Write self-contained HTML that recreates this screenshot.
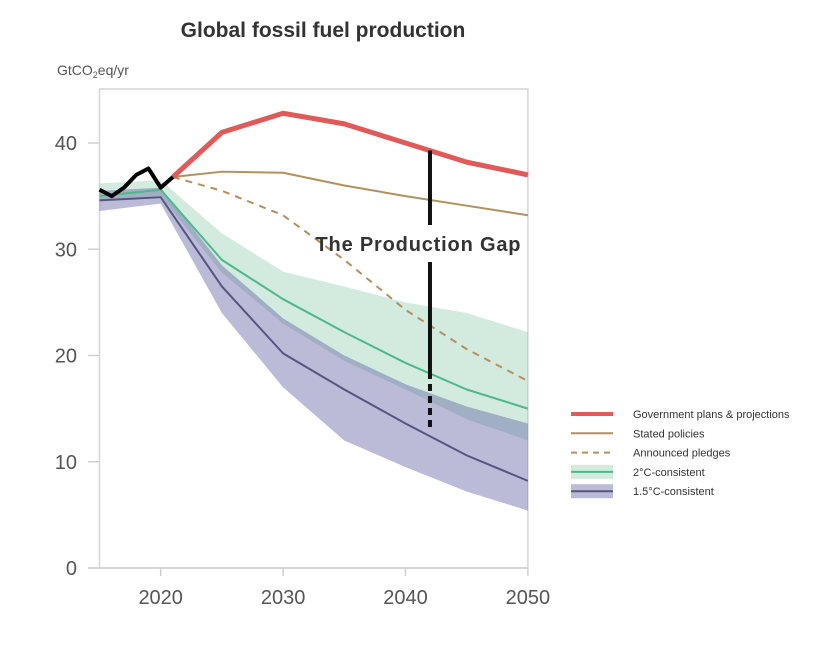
<!DOCTYPE html>
<html><head><meta charset="utf-8"><style>
body{margin:0;background:#fff;width:819px;height:640px;overflow:hidden}
svg{font-family:"Liberation Sans",sans-serif}
</style></head><body>
<svg id="chart" width="819" height="640">
<text x="323" y="37" text-anchor="middle" font-size="21" font-weight="bold" fill="#333">Global fossil fuel production</text>
<text x="57" y="75" font-size="14" fill="#555">GtCO<tspan font-size="9" dy="3">2</tspan><tspan dy="-3">eq/yr</tspan></text>
<g id="plot"></g>
<g id="legend"></g>
</svg>
<script>
const years=[2015,2020,2025,2030,2035,2040,2045,2050];
const histYears=[2015,2016,2017,2018,2019,2020,2021];
const histVals=[35.6,35.0,35.8,37.0,37.6,35.8,36.8];
const projYears=[2021,2025,2030,2035,2040,2045,2050];
const govVals=[36.8,41.0,42.8,41.8,40.0,38.2,37.0];
const statedVals=[36.8,37.3,37.2,36.0,35.0,34.1,33.2];
const pledgeVals=[36.8,35.5,33.2,29.0,24.3,20.6,17.6];
const twoMed=[35.0,35.6,29.0,25.3,22.2,19.3,16.8,15.0];
const twoHi=[36.2,36.5,31.5,27.9,26.5,25.0,24.0,22.2];
const twoLo=[34.6,35.0,27.8,23.0,19.5,16.8,14.0,12.0];
const oneMed=[34.6,34.9,26.5,20.2,16.8,13.6,10.6,8.2];
const oneHi=[35.5,35.8,28.5,23.5,20.0,17.3,15.2,13.6];
const oneLo=[33.6,34.3,24.0,17.0,12.0,9.5,7.2,5.4];
const gapYear=2042, gapTop=39.3, gapBottom=12.8;
const xTicks=[2020,2030,2040,2050];
const yTicks=[0,10,20,30,40];

const X=y=>99.5+(y-2015)*12.24;
const Y=v=>568-v*10.625;
const NS="http://www.w3.org/2000/svg";
const plot=document.getElementById('plot');
function mk(tag,attrs,parent){const e=document.createElementNS(NS,tag);for(const k in attrs)e.setAttribute(k,attrs[k]);(parent||plot).appendChild(e);return e;}
let f=mk('rect',{x:X(2015),y:89,width:X(2050)-X(2015),height:568-89,fill:'none',stroke:'#d6d6d6','stroke-width':1.5});


let xa=mk('line',{x1:88,x2:X(2050),y1:568,y2:568,stroke:'#d0d0d0','stroke-width':1.5});


xTicks.forEach(t=>{
 let l=mk('line',{x1:X(t),x2:X(t),y1:568,y2:576,stroke:'#d0d0d0','stroke-width':1.5});
 
 
 let tx=mk('text',{x:X(t),y:604,'text-anchor':'middle','font-size':20,fill:'#555'});tx.textContent=t;
 
 
});
yTicks.forEach(t=>{
 let l=mk('line',{x1:88,x2:X(2015),y1:Y(t),y2:Y(t),stroke:'#d0d0d0','stroke-width':1.5});
 
 
 let tx=mk('text',{x:77,y:Y(t)+7,'text-anchor':'end','font-size':20,fill:'#555'});tx.textContent=t;
 
 
});
function band(hi,lo,fill,name){
 let d=years.map((y,i)=>(i?'L':'M')+X(y)+','+Y(hi[i])).join('')+years.slice().reverse().map((y,i)=>'L'+X(y)+','+Y(lo[lo.length-1-i])).join('')+'Z';
 let p=mk('path',{d:d,fill:fill});
 
 
}
function line(xs,vs,stroke,w,name,dash){
 let p=mk('path',{d:xs.map((y,i)=>(i?'L':'M')+X(y)+','+Y(vs[i])).join(''),fill:'none',stroke:stroke,'stroke-width':w,'stroke-linejoin':'round'});
 if(dash)p.setAttribute('stroke-dasharray',dash);
 
 
}
band(twoHi,twoLo,'rgba(110,190,150,0.3)','band-2c');
band(oneHi,oneLo,'rgba(85,85,155,0.4)','band-1-5c');
line(years,twoMed,'#4db88a',2,'line-2c');
line(years,oneMed,'#555580',2,'line-1-5c');
line(projYears,statedVals,'#b0915f',2,'line-stated-policies');
line(projYears,pledgeVals,'#b0915f',2,'line-announced-pledges','7,6');
line(projYears,govVals,'#e05a5a',5,'line-government-plans');
line(histYears,histVals,'#000',4,'line-historical');
const gx=X(gapYear);
let g1=mk('line',{x1:gx,x2:gx,y1:Y(gapTop),y2:225,stroke:'#111','stroke-width':4});


let g2=mk('line',{x1:gx,x2:gx,y1:262,y2:372,stroke:'#111','stroke-width':4});


let g3=mk('line',{x1:gx,x2:gx,y1:372,y2:Y(gapBottom),stroke:'#111','stroke-width':4,'stroke-dasharray':'7,5'});


let gt=mk('text',{x:418,y:251,'text-anchor':'middle','font-size':20,'font-weight':'bold',fill:'#333',textLength:205});gt.textContent='The Production Gap';


const lg=document.getElementById('legend');
const legLabels=['Government plans & projections','Stated policies','Announced pledges','2°C-consistent','1.5°C-consistent'];
const legColors=['#e05a5a','#b0915f','#b0915f','#4db88a','#555580'];
legLabels.forEach((s,i)=>{
 const y=414+i*19.3;
 if(i>=3){let r=mk('rect',{x:571,y:y-7,width:42,height:14,fill:i==3?'rgba(110,190,150,0.3)':'rgba(85,85,155,0.4)'},lg);
  
  }
 let l=mk('line',{x1:571,x2:613,y1:y,y2:y,stroke:legColors[i],'stroke-width':i==0?4:2},lg);
 if(i==2)l.setAttribute('stroke-dasharray','6,5');
 
 
 let t=mk('text',{x:633,y:y+4,'font-size':11,fill:'#333'},lg);t.textContent=s;
 
 
});
</script>
</body></html>
